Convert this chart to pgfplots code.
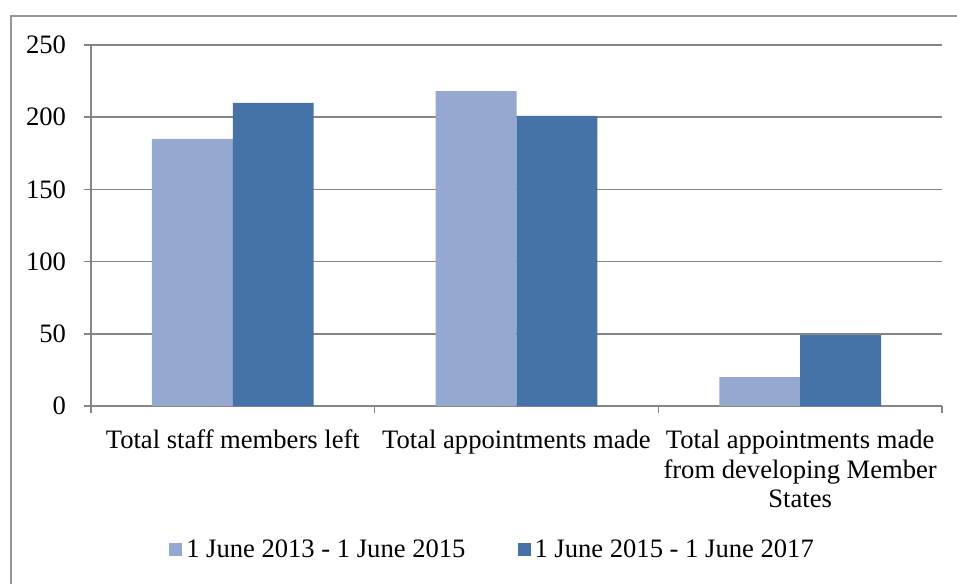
\documentclass[border=0pt]{standalone}
\usepackage{fontspec}
\setmainfont{Liberation Serif}
\usepackage{pgfplots}
\pgfplotsset{compat=1.18}
\definecolor{lightbar}{RGB}{149,169,208}
\definecolor{darkbar}{RGB}{69,115,167}
\definecolor{gridgray}{RGB}{134,134,134}
\definecolor{framegray}{RGB}{150,150,150}
\begin{document}
\begin{tikzpicture}[font=\fontsize{13.3}{14.75}\selectfont]
\useasboundingbox (-45.5pt,-89pt) rectangle (433pt,203pt);
\draw[framegray, line width=0.6pt] (-40pt,-89pt) -- (-40pt,195pt) -- (433pt,195pt);
\begin{axis}[
  at={(0pt,0pt)}, anchor=south west,
  scale only axis, width=425.5pt, height=180.5pt,
  xmin=-0.5, xmax=2.5, ymin=0, ymax=250,
  ytick={0,50,...,250},
  xtick={0,1,2},
  xticklabels={Total staff members left, Total appointments made, {Total appointments made\\from developing Member\\States}},
  minor xtick={-0.5,0.5,1.5,2.5},
  axis x line*=bottom, axis y line*=left,
  axis line style={draw=gridgray, line width=0.75pt, -},
  ymajorgrids, grid style={draw=gridgray, line width=0.75pt},
  tick align=outside,
  major x tick style={draw=none},
  minor tick length=3.5pt, major tick length=3.5pt,
  ytick style={draw=gridgray, line width=0.75pt},
  minor x tick style={draw=gridgray, line width=0.75pt},
  xticklabel style={align=center, yshift=-5pt},
  yticklabel style={xshift=-5.5pt},
  /pgf/number format/assume math mode=true,
  ybar=0pt, bar width=0.285,
  legend columns=2,
  legend style={at={(0.473,-0.399)}, anchor=center, draw=none, fill=none,
    column sep=0pt, /tikz/every even column/.append style={column sep=24pt},
    font=\fontsize{13.3}{14.75}\selectfont},
  legend image code/.code={\fill[#1] (0pt,-3pt) rectangle (6.5pt,3.5pt);},
]
\addplot[fill=lightbar, draw=none] coordinates {(0,185) (1,218) (2,20)};
\addplot[fill=darkbar, draw=none] coordinates {(0,210) (1,201) (2,49)};
\legend{1 June 2013 - 1 June 2015, 1 June 2015 - 1 June 2017}
\end{axis}
\end{tikzpicture}
\end{document}
